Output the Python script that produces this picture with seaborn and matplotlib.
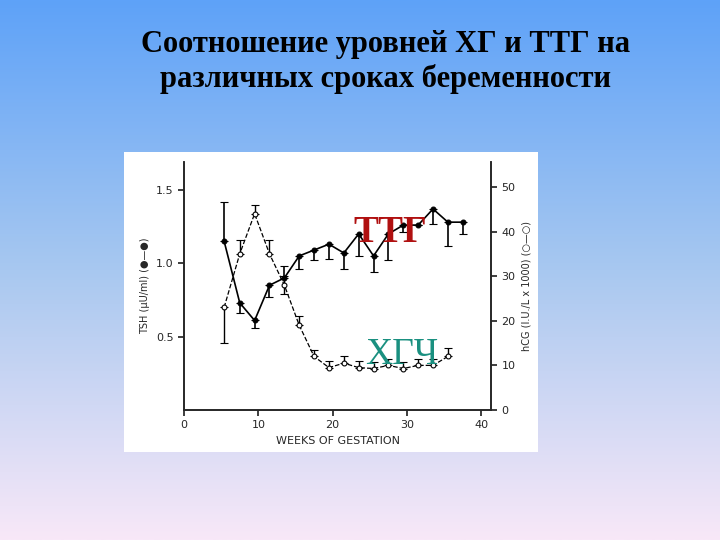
import numpy as np
import matplotlib.pyplot as plt
import seaborn as sns
from matplotlib.colors import LinearSegmentedColormap

sns.set_theme(style="ticks")

weeks_tsh = [5.4, 7.5, 9.5, 11.5, 13.5, 15.5, 17.5, 19.5, 21.5, 23.5, 25.5, 27.5, 29.5, 31.5, 33.5, 35.5, 37.5]
tsh = [1.15, 0.73, 0.61, 0.85, 0.90, 1.05, 1.09, 1.13, 1.07, 1.20, 1.05, 1.20, 1.26, 1.26, 1.37, 1.28, 1.28]
tsh_lo = [0.0, 0.07, 0.05, 0.08, 0.0, 0.09, 0.07, 0.10, 0.11, 0.15, 0.11, 0.18, 0.05, 0.0, 0.10, 0.16, 0.08]
tsh_hi = [0.27, 0.0, 0.0, 0.0, 0.08, 0.0, 0.0, 0.0, 0.0, 0.0, 0.0, 0.0, 0.0, 0.0, 0.0, 0.0, 0.0]

weeks_hcg = [5.4, 7.5, 9.5, 11.5, 13.5, 15.5, 17.5, 19.5, 21.5, 23.5, 25.5, 27.5, 29.5, 31.5, 33.5, 35.5]
hcg = [23, 35, 44, 35, 28, 19, 12, 9.5, 10.5, 9.5, 9.3, 10, 9.3, 10, 10, 12]
hcg_lo = [8, 0, 0, 0, 2, 0, 0, 0, 0, 0, 0, 0, 0, 0, 0, 0]
hcg_hi = [0, 3, 2, 3, 2, 2, 1.5, 1.5, 1.5, 1.5, 1.5, 1.5, 1.5, 1.5, 1.5, 1.8]

title = "Соотношение уровней ХГ и ТТГ на\nразличных сроках беременности"

fig = plt.figure(figsize=(7.2, 5.4), dpi=100)

# slide background gradient
bg = fig.add_axes([0, 0, 1, 1])
cmap = LinearSegmentedColormap.from_list("slide", ["#5ea2f8", "#a8c8f0", "#f8e8f8"])
bg.imshow(np.linspace(0, 1, 256).reshape(-1, 1), aspect="auto", cmap=cmap, extent=[0, 1, 0, 1])
bg.set_axis_off()
bg.text(0.535, 0.885, title, ha="center", va="center", fontsize=22, fontweight="bold",
        family="Liberation Serif", color="black", linespacing=1.25)

# white picture panel
panel = fig.add_axes([124 / 720, 1 - 452 / 540, 414 / 720, 300 / 540])
panel.set_facecolor("white")
panel.set_xticks([]); panel.set_yticks([])
for s in panel.spines.values():
    s.set_visible(False)

ax = fig.add_axes([184 / 720, 1 - 410 / 540, (491 - 184) / 720, (410 - 162) / 540])
ax.set_facecolor("none")
ax.errorbar(weeks_tsh, tsh, yerr=[tsh_lo, tsh_hi], fmt="-", marker="o", color="black", ms=3.5,
            mew=0.8, lw=1.2, capsize=3, elinewidth=1.2)
ax.set_xlim(0, 41.3)
ax.set_ylim(0, 1.69)
ax.set_xticks([0, 10, 20, 30, 40])
ax.set_yticks([0.5, 1.0, 1.5])
ax.set_yticklabels(["0.5", "1.0", "1.5"])
ax.set_xlabel("WEEKS OF GESTATION", fontsize=8)
ax.set_ylabel("TSH (\u03bcU/ml) (\u25cf\u2014\u25cf)", fontsize=7)
ax.tick_params(labelsize=8, direction="out", length=4)

ax2 = ax.twinx()
ax2.errorbar(weeks_hcg, hcg, yerr=[hcg_lo, hcg_hi], fmt="--", marker="o", color="black", ms=3.5,
             mew=0.8, mfc="white", lw=0.9, capsize=3, elinewidth=1)
ax2.set_ylim(0, 50 * 1.69 / 1.52)
ax2.set_yticks([0, 10, 20, 30, 40, 50])
ax2.set_ylabel("hCG (I.U./L x 1000) (\u25cb\u2014\u25cb)", fontsize=7)
ax2.tick_params(labelsize=8, length=4)
for a in (ax, ax2):
    a.spines["top"].set_visible(False)
    for side in ("left", "bottom", "right"):
        a.spines[side].set_linewidth(1.2)

fig.text(390 / 720, 1 - 232 / 540, "ТТГ", ha="center", va="center", fontsize=27,
         fontweight="bold", family="Liberation Serif", color="#b01010", zorder=10)
fig.text(402 / 720, 1 - 355 / 540, "ХГЧ", ha="center", va="center", fontsize=27,
         family="Liberation Serif", color="#1a9080", zorder=10)

fig.savefig("out.png", dpi=100)
